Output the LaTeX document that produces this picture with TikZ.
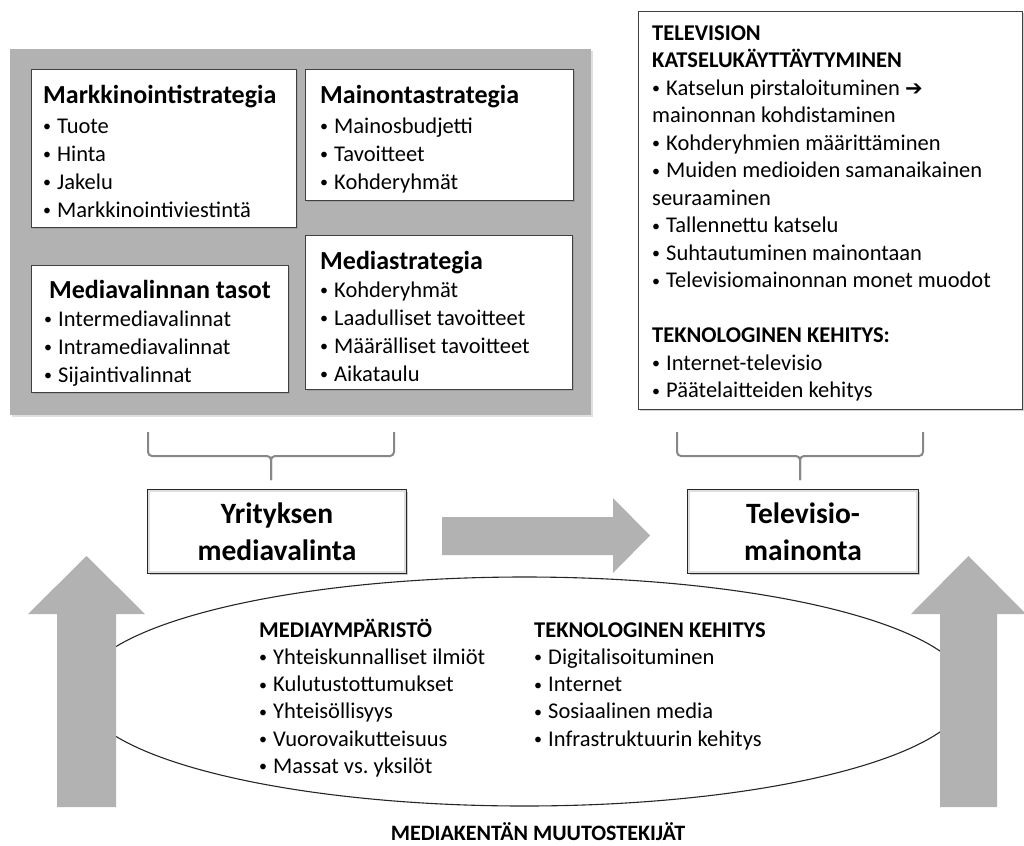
\documentclass[tikz,border=0pt]{standalone}
\usepackage{fontspec}
\setmainfont{Carlito}
\newfontfamily\symfont{DejaVu Sans}
\usetikzlibrary{calc,shadows}
\definecolor{panelgray}{RGB}{178,178,178}
\definecolor{arrowgray}{RGB}{178,178,178}
\definecolor{bracegray}{RGB}{135,135,135}
\newcommand{\bul}{\makebox[14pt][l]{\raisebox{1.5pt}{\fontsize{16}{16}\selectfont•}}}
\newcommand{\ttlfont}{\fontsize{26}{28}\selectfont\bfseries}
\frenchspacing
\begin{document}
\begin{tikzpicture}[x=1pt,y=-1pt,
  panel/.style={fill=panelgray, draw=none, inner sep=0, anchor=north west,
    drop shadow={opacity=0.25, shadow xshift=1.5pt, shadow yshift=-1.5pt}},
  wbox/.style={draw=black!75, line width=1.2pt, fill=white, inner sep=0, anchor=north west,
    drop shadow={opacity=0.35, shadow xshift=1.5pt, shadow yshift=-1.5pt}},
  mbox/.style={draw=black!85, line width=1.5pt, fill=white, align=center, inner sep=0,
    font=\fontsize{29.5}{37}\selectfont\bfseries,
    drop shadow={opacity=0.4, shadow xshift=1.5pt, shadow yshift=-1.5pt}},
  glow/.style={draw=gray!25, line width=2pt},
  blk/.style={inner sep=0, anchor=north west, align=left, font=\fontsize{22.5}{28}\selectfont},
  brace/.style={draw=bracegray, line width=2pt, rounded corners=4pt},
  bigarrow/.style={fill=arrowgray, draw=none},
  env/.style={draw=black!85, line width=1.1pt}
]
\useasboundingbox (0,0) rectangle (1024,845);

% gray panel with strategy boxes
\node[panel, minimum width=581, minimum height=366] (panel) at (10,49) {};
\node[wbox, minimum width=265, minimum height=158] (mkbox) at (31,69) {};
\node[wbox, minimum width=268, minimum height=131] (mobox) at (305,69) {};
\node[wbox, minimum width=257, minimum height=127] (mvbox) at (31,265) {};
\node[wbox, minimum width=267, minimum height=154] (msbox) at (305,235) {};

\node[blk] (mktxt) at (43,79) {\rule{0pt}{24pt}{\ttlfont Markkinointistrategia}\\[2pt]
  \bul Tuote\\ \bul Hinta\\ \bul Jakelu\\ \bul Markkinointiviestintä};
\node[blk] (motxt) at (320,79) {\rule{0pt}{24pt}{\ttlfont Mainontastrategia}\\[2pt]
  \bul Mainosbudjetti\\ \bul Tavoitteet\\ \bul Kohderyhmät};
\node[anchor=base, inner sep=0, font=\ttlfont] (mvtitle) at (160,298) {Mediavalinnan tasot};
\node[blk] (mvtxt) at (44,306) {\rule{0pt}{20pt}\bul Intermediavalinnat\\
  \bul Intramediavalinnat\\ \bul Sijaintivalinnat};
\node[blk] (mstxt) at (320,245) {\rule{0pt}{24pt}{\ttlfont Mediastrategia}\\
  \bul Kohderyhmät\\ \bul Laadulliset tavoitteet\\ \bul Määrälliset tavoitteet\\ \bul Aikataulu};

% television box
\node[wbox, minimum width=384, minimum height=398] (tvbox) at (638,11) {};
\node[blk, font=\fontsize{22.5}{27.5}\selectfont] (tvtxt) at (652,20) {\rule{0pt}{20pt}\textbf{TELEVISION}\\
  \textbf{KATSELUKÄYTTÄYTYMINEN}\\
  \bul Katselun pirstaloituminen {\symfont\bfseries\fontsize{21}{21}\selectfont ➔}\\
  mainonnan kohdistaminen\\
  \bul Kohderyhmien määrittäminen\\
  \bul Muiden medioiden samanaikainen\\
  seuraaminen\\
  \bul Tallennettu katselu\\
  \bul Suhtautuminen mainontaan\\
  \bul Televisiomainonnan monet muodot\\
  \mbox{}\\
  \textbf{TEKNOLOGINEN KEHITYS:}\\
  \bul Internet-televisio\\
  \bul Päätelaitteiden kehitys};

% braces
\draw[brace] (148,432) |- (271,456) -- (271,480);
\draw[brace] (394,432) |- (271,456) -- (271,480);
\draw[brace] (677,432) |- (800,456) -- (800,480);
\draw[brace] (923,432) |- (800,456) -- (800,480);

% main boxes
\node[mbox, minimum width=258, minimum height=83] (yr) at (277,531.5) {Yrityksen\\mediavalinta};
\draw[glow] ($(yr.north west)+(1.8,1.8)$) rectangle ($(yr.south east)+(-1.8,-1.8)$);
\node[mbox, minimum width=230, minimum height=83] (te) at (803,531.5) {Televisio-\\mainonta};
\draw[glow] ($(te.north west)+(1.8,1.8)$) rectangle ($(te.south east)+(-1.8,-1.8)$);

% horizontal arrow
\fill[bigarrow] (442,517) -- (613,517) -- (613,498) -- (650,535.5) -- (613,573)
  -- (613,555) -- (442,555) -- cycle;

% ellipse
\draw[env] (524.5,691.5) ellipse [x radius=444pt, y radius=114.5pt];

% vertical arrows
\fill[bigarrow] (57,807) -- (57,614) -- (28,614) -- (86.5,556) -- (145,614)
  -- (116,614) -- (116,807) -- cycle;
\fill[bigarrow] (940,807) -- (940,614) -- (911,614) -- (968.5,556) -- (1026,614)
  -- (997,614) -- (997,807) -- cycle;

% ellipse texts
\node[blk, font=\fontsize{22.5}{27.2}\selectfont] (envtxt) at (259,617) {\rule{0pt}{20pt}\textbf{MEDIAYMPÄRISTÖ}\\
  \bul Yhteiskunnalliset ilmiöt\\ \bul Kulutustottumukset\\ \bul Yhteisöllisyys\\
  \bul Vuorovaikutteisuus\\ \bul Massat vs. yksilöt};
\node[blk, font=\fontsize{22.5}{27.2}\selectfont] (techtxt) at (534,617) {\rule{0pt}{20pt}\textbf{TEKNOLOGINEN KEHITYS}\\
  \bul Digitalisoituminen\\ \bul Internet\\ \bul Sosiaalinen media\\ \bul Infrastruktuurin kehitys};

\node[anchor=base, inner sep=0, font=\fontsize{22}{26}\selectfont\bfseries] (label) at (538,840) {MEDIAKENTÄN MUUTOSTEKIJÄT};
\end{tikzpicture}
\end{document}
